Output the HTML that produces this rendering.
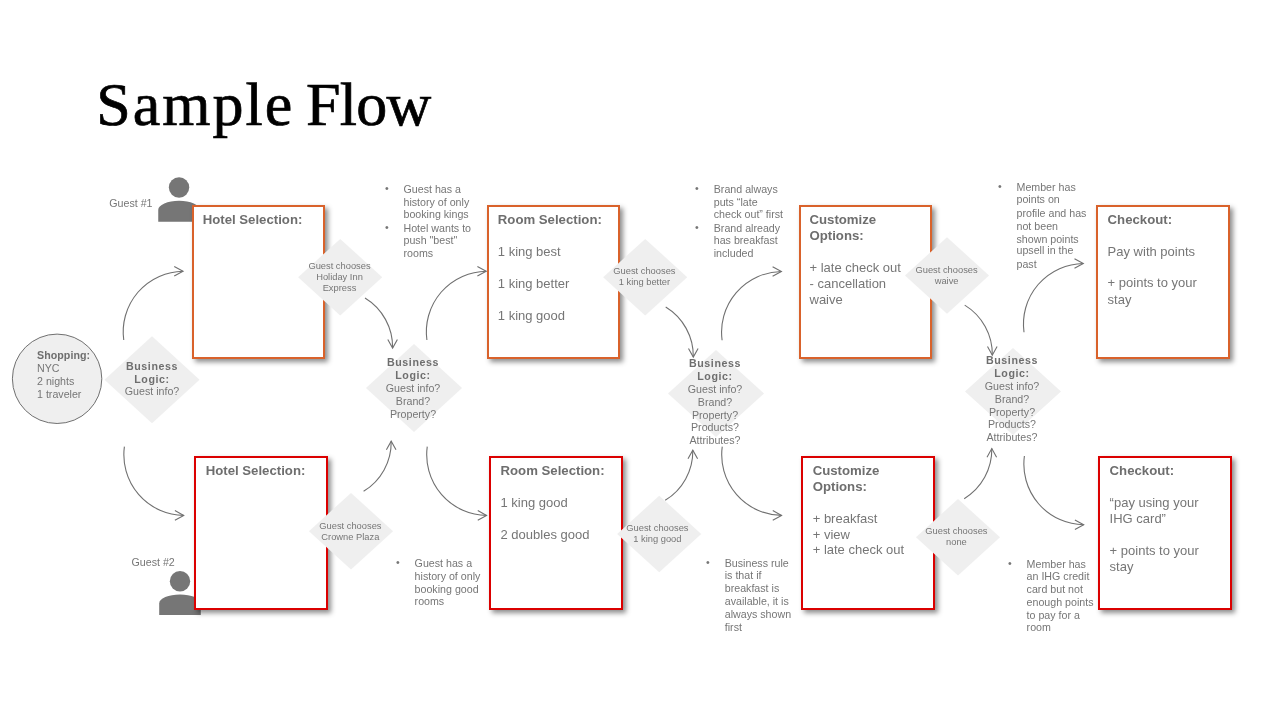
<!DOCTYPE html>
<html><head><meta charset="utf-8"><style>
html,body{margin:0;padding:0;background:#fff;}
body{width:1280px;height:720px;position:relative;overflow:hidden;font-family:"Liberation Sans",sans-serif;}
.t{position:absolute;white-space:pre;}
#tx{position:absolute;left:0;top:0;width:1280px;height:720px;will-change:transform;}
.box{position:absolute;box-sizing:border-box;border:2px solid;background:#fff;box-shadow:3px 3px 5px rgba(0,0,0,0.45);}
svg{position:absolute;left:0;top:0;}
.arc{fill:none;stroke:#707070;stroke-width:1.1;}
</style></head><body>
<svg width="1280" height="720" viewBox="0 0 1280 720">
<circle cx="57.1" cy="378.8" r="44.7" fill="#efefef" stroke="#707070" stroke-width="1"/>
<polygon points="104.5,379.7 152,336.2 199.5,379.7 152,423.2" fill="#efefef"/>
<polygon points="366,388 414,344 462,388 414,432" fill="#efefef"/>
<polygon points="668,393.6 716,350.1 764,393.6 716,437.1" fill="#efefef"/>
<polygon points="965,391.4 1013,347.9 1061,391.4 1013,434.9" fill="#efefef"/>
<circle cx="179.05" cy="187.5" r="10.2" fill="#767676"/>
<path d="M158.25,221.7 L158.25,209.80 A20.8,9.0 0 0 1 199.85,209.80 L199.85,221.7 Z" fill="#767676"/>
<circle cx="180.0" cy="581.3" r="10.2" fill="#767676"/>
<path d="M159.20,614.9 L159.20,603.40 A20.8,9.0 0 0 1 200.80,603.40 L200.80,614.9 Z" fill="#767676"/>
<path d="M123.75,340 A60.7,60.7 0 0 1 183.05,271.20" class="arc"/>
<path d="M174.25,266.40 L183.05,271.20 L174.25,276.00" class="arc"/>
<path d="M124.4,446.6 A60.7,60.7 0 0 0 183.70,515.40" class="arc"/>
<path d="M174.90,510.60 L183.70,515.40 L174.90,520.20" class="arc"/>
<path d="M365,298 A57.5,57.5 0 0 1 392.60,348.10" class="arc"/>
<path d="M387.80,339.50 L392.60,348.10 L397.40,339.50" class="arc"/>
<path d="M426.9,340 A60.7,60.7 0 0 1 486.20,271.20" class="arc"/>
<path d="M477.40,266.40 L486.20,271.20 L477.40,276.00" class="arc"/>
<path d="M363.6,491.3 A57.5,57.5 0 0 0 391.20,441.20" class="arc"/>
<path d="M386.40,449.80 L391.20,441.20 L396.00,449.80" class="arc"/>
<path d="M427.25,446.6 A60.7,60.7 0 0 0 486.55,515.40" class="arc"/>
<path d="M477.75,510.60 L486.55,515.40 L477.75,520.20" class="arc"/>
<path d="M665.7,307 A57.5,57.5 0 0 1 693.30,357.10" class="arc"/>
<path d="M688.50,348.50 L693.30,357.10 L698.10,348.50" class="arc"/>
<path d="M722.1,340.3 A60.7,60.7 0 0 1 781.40,271.50" class="arc"/>
<path d="M772.60,266.70 L781.40,271.50 L772.60,276.30" class="arc"/>
<path d="M665.2,500.3 A57.5,57.5 0 0 0 692.80,450.20" class="arc"/>
<path d="M688.00,458.80 L692.80,450.20 L697.60,458.80" class="arc"/>
<path d="M722.25,446.6 A60.7,60.7 0 0 0 781.55,515.40" class="arc"/>
<path d="M772.75,510.60 L781.55,515.40 L772.75,520.20" class="arc"/>
<path d="M964.7,305.1 A57.5,57.5 0 0 1 992.30,355.20" class="arc"/>
<path d="M987.50,346.60 L992.30,355.20 L997.10,346.60" class="arc"/>
<path d="M1024,332.25 A60.7,60.7 0 0 1 1083.30,263.45" class="arc"/>
<path d="M1074.50,258.65 L1083.30,263.45 L1074.50,268.25" class="arc"/>
<path d="M964.2,498.7 A57.5,57.5 0 0 0 991.80,448.60" class="arc"/>
<path d="M987.00,457.20 L991.80,448.60 L996.60,457.20" class="arc"/>
<path d="M1024.4,456.0 A60.7,60.7 0 0 0 1083.70,524.80" class="arc"/>
<path d="M1074.90,520.00 L1083.70,524.80 L1074.90,529.60" class="arc"/>
</svg>
<div class="box" style="left:192px;top:205px;width:133px;height:154px;border-color:#d9622b"></div>
<div class="box" style="left:487px;top:205px;width:133px;height:154px;border-color:#d9622b"></div>
<div class="box" style="left:799px;top:205px;width:133px;height:154px;border-color:#d9622b"></div>
<div class="box" style="left:1096px;top:205px;width:134px;height:154px;border-color:#d9622b"></div>
<div class="box" style="left:194px;top:456px;width:134px;height:154px;border-color:#db0000"></div>
<div class="box" style="left:489px;top:456px;width:134px;height:154px;border-color:#db0000"></div>
<div class="box" style="left:801px;top:456px;width:134px;height:154px;border-color:#db0000"></div>
<div class="box" style="left:1098px;top:456px;width:134px;height:154px;border-color:#db0000"></div>
<svg width="1280" height="720" viewBox="0 0 1280 720">
<polygon points="298.2,277.2 340.2,238.89999999999998 382.2,277.2 340.2,315.5" fill="#efefef"/>
<polygon points="603.2,277.2 645.2,238.89999999999998 687.2,277.2 645.2,315.5" fill="#efefef"/>
<polygon points="905,275.5 947,237.2 989,275.5 947,313.8" fill="#efefef"/>
<polygon points="309,531.2 351,492.90000000000003 393,531.2 351,569.5" fill="#efefef"/>
<polygon points="617.2,534 659.2,495.7 701.2,534 659.2,572.3" fill="#efefef"/>
<polygon points="916,537.3 958,498.99999999999994 1000,537.3 958,575.5999999999999" fill="#efefef"/>
</svg>
<div id="tx">
<div class="t" style="left:96.20px;top:73.42px;font:normal 62.0px/62.0px 'Liberation Serif', serif;color:#000;-webkit-text-stroke:0.7px #000;letter-spacing:2.0px;">Sample</div>
<div class="t" style="left:305.90px;top:73.42px;font:normal 62.0px/62.0px 'Liberation Serif', serif;color:#000;-webkit-text-stroke:0.7px #000;letter-spacing:-0.7px;">Flow</div>
<div class="t" style="left:109.30px;top:198.00px;font:normal 10.67px/10.67px 'Liberation Sans', sans-serif;color:#767676;">Guest #1</div>
<div class="t" style="left:131.50px;top:557.00px;font:normal 10.67px/10.67px 'Liberation Sans', sans-serif;color:#767676;">Guest #2</div>
<div class="t" style="left:37.00px;top:350.00px;font:bold 10.67px/10.67px 'Liberation Sans', sans-serif;color:#6e6e6e;letter-spacing:0.05px;">Shopping:</div>
<div class="t" style="left:37.00px;top:363.00px;font:normal 10.67px/10.67px 'Liberation Sans', sans-serif;color:#767676;">NYC</div>
<div class="t" style="left:37.00px;top:376.00px;font:normal 10.67px/10.67px 'Liberation Sans', sans-serif;color:#767676;">2 nights</div>
<div class="t" style="left:37.00px;top:389.00px;font:normal 10.67px/10.67px 'Liberation Sans', sans-serif;color:#767676;">1 traveler</div>
<div class="t" style="left:2.00px;width:300px;text-align:center;top:361.00px;font:bold 10.67px/10.67px 'Liberation Sans', sans-serif;color:#6e6e6e;letter-spacing:0.6px;">Business</div>
<div class="t" style="left:2.00px;width:300px;text-align:center;top:374.00px;font:bold 10.67px/10.67px 'Liberation Sans', sans-serif;color:#6e6e6e;letter-spacing:0.6px;">Logic:</div>
<div class="t" style="left:2.00px;width:300px;text-align:center;top:386.00px;font:normal 10.67px/10.67px 'Liberation Sans', sans-serif;color:#767676;">Guest info?</div>
<div class="t" style="left:263.00px;width:300px;text-align:center;top:357.00px;font:bold 10.67px/10.67px 'Liberation Sans', sans-serif;color:#6e6e6e;letter-spacing:0.6px;">Business</div>
<div class="t" style="left:263.00px;width:300px;text-align:center;top:370.00px;font:bold 10.67px/10.67px 'Liberation Sans', sans-serif;color:#6e6e6e;letter-spacing:0.6px;">Logic:</div>
<div class="t" style="left:263.00px;width:300px;text-align:center;top:383.00px;font:normal 10.67px/10.67px 'Liberation Sans', sans-serif;color:#767676;">Guest info?</div>
<div class="t" style="left:263.00px;width:300px;text-align:center;top:396.00px;font:normal 10.67px/10.67px 'Liberation Sans', sans-serif;color:#767676;">Brand?</div>
<div class="t" style="left:263.00px;width:300px;text-align:center;top:409.00px;font:normal 10.67px/10.67px 'Liberation Sans', sans-serif;color:#767676;">Property?</div>
<div class="t" style="left:565.00px;width:300px;text-align:center;top:358.00px;font:bold 10.67px/10.67px 'Liberation Sans', sans-serif;color:#6e6e6e;letter-spacing:0.6px;">Business</div>
<div class="t" style="left:565.00px;width:300px;text-align:center;top:371.00px;font:bold 10.67px/10.67px 'Liberation Sans', sans-serif;color:#6e6e6e;letter-spacing:0.6px;">Logic:</div>
<div class="t" style="left:565.00px;width:300px;text-align:center;top:384.00px;font:normal 10.67px/10.67px 'Liberation Sans', sans-serif;color:#767676;">Guest info?</div>
<div class="t" style="left:565.00px;width:300px;text-align:center;top:397.00px;font:normal 10.67px/10.67px 'Liberation Sans', sans-serif;color:#767676;">Brand?</div>
<div class="t" style="left:565.00px;width:300px;text-align:center;top:410.00px;font:normal 10.67px/10.67px 'Liberation Sans', sans-serif;color:#767676;">Property?</div>
<div class="t" style="left:565.00px;width:300px;text-align:center;top:422.00px;font:normal 10.67px/10.67px 'Liberation Sans', sans-serif;color:#767676;">Products?</div>
<div class="t" style="left:565.00px;width:300px;text-align:center;top:435.00px;font:normal 10.67px/10.67px 'Liberation Sans', sans-serif;color:#767676;">Attributes?</div>
<div class="t" style="left:862.00px;width:300px;text-align:center;top:355.00px;font:bold 10.67px/10.67px 'Liberation Sans', sans-serif;color:#6e6e6e;letter-spacing:0.6px;">Business</div>
<div class="t" style="left:862.00px;width:300px;text-align:center;top:368.00px;font:bold 10.67px/10.67px 'Liberation Sans', sans-serif;color:#6e6e6e;letter-spacing:0.6px;">Logic:</div>
<div class="t" style="left:862.00px;width:300px;text-align:center;top:381.00px;font:normal 10.67px/10.67px 'Liberation Sans', sans-serif;color:#767676;">Guest info?</div>
<div class="t" style="left:862.00px;width:300px;text-align:center;top:394.00px;font:normal 10.67px/10.67px 'Liberation Sans', sans-serif;color:#767676;">Brand?</div>
<div class="t" style="left:862.00px;width:300px;text-align:center;top:407.00px;font:normal 10.67px/10.67px 'Liberation Sans', sans-serif;color:#767676;">Property?</div>
<div class="t" style="left:862.00px;width:300px;text-align:center;top:419.00px;font:normal 10.67px/10.67px 'Liberation Sans', sans-serif;color:#767676;">Products?</div>
<div class="t" style="left:862.00px;width:300px;text-align:center;top:432.00px;font:normal 10.67px/10.67px 'Liberation Sans', sans-serif;color:#767676;">Attributes?</div>
<div class="t" style="left:189.50px;width:300px;text-align:center;top:262.00px;font:normal 9.33px/9.33px 'Liberation Sans', sans-serif;color:#767676;">Guest chooses</div>
<div class="t" style="left:189.50px;width:300px;text-align:center;top:273.00px;font:normal 9.33px/9.33px 'Liberation Sans', sans-serif;color:#767676;">Holiday Inn</div>
<div class="t" style="left:189.50px;width:300px;text-align:center;top:284.00px;font:normal 9.33px/9.33px 'Liberation Sans', sans-serif;color:#767676;">Express</div>
<div class="t" style="left:494.40px;width:300px;text-align:center;top:267.00px;font:normal 9.33px/9.33px 'Liberation Sans', sans-serif;color:#767676;">Guest chooses</div>
<div class="t" style="left:494.40px;width:300px;text-align:center;top:278.00px;font:normal 9.33px/9.33px 'Liberation Sans', sans-serif;color:#767676;">1 king better</div>
<div class="t" style="left:796.60px;width:300px;text-align:center;top:266.00px;font:normal 9.33px/9.33px 'Liberation Sans', sans-serif;color:#767676;">Guest chooses</div>
<div class="t" style="left:796.60px;width:300px;text-align:center;top:277.00px;font:normal 9.33px/9.33px 'Liberation Sans', sans-serif;color:#767676;">waive</div>
<div class="t" style="left:200.40px;width:300px;text-align:center;top:522.00px;font:normal 9.33px/9.33px 'Liberation Sans', sans-serif;color:#767676;">Guest chooses</div>
<div class="t" style="left:200.40px;width:300px;text-align:center;top:533.00px;font:normal 9.33px/9.33px 'Liberation Sans', sans-serif;color:#767676;">Crowne Plaza</div>
<div class="t" style="left:507.40px;width:300px;text-align:center;top:524.00px;font:normal 9.33px/9.33px 'Liberation Sans', sans-serif;color:#767676;">Guest chooses</div>
<div class="t" style="left:507.40px;width:300px;text-align:center;top:535.00px;font:normal 9.33px/9.33px 'Liberation Sans', sans-serif;color:#767676;">1 king good</div>
<div class="t" style="left:806.40px;width:300px;text-align:center;top:527.00px;font:normal 9.33px/9.33px 'Liberation Sans', sans-serif;color:#767676;">Guest chooses</div>
<div class="t" style="left:806.40px;width:300px;text-align:center;top:538.00px;font:normal 9.33px/9.33px 'Liberation Sans', sans-serif;color:#767676;">none</div>
<div class="t" style="left:384.90px;top:183.00px;font:normal 10.67px/10.67px 'Liberation Sans', sans-serif;color:#767676;">&bull;</div>
<div class="t" style="left:384.90px;top:222.00px;font:normal 10.67px/10.67px 'Liberation Sans', sans-serif;color:#767676;">&bull;</div>
<div class="t" style="left:403.50px;top:184.00px;font:normal 10.67px/10.67px 'Liberation Sans', sans-serif;color:#767676;">Guest has a</div>
<div class="t" style="left:403.50px;top:197.00px;font:normal 10.67px/10.67px 'Liberation Sans', sans-serif;color:#767676;">history of only</div>
<div class="t" style="left:403.50px;top:209.00px;font:normal 10.67px/10.67px 'Liberation Sans', sans-serif;color:#767676;">booking kings</div>
<div class="t" style="left:403.50px;top:223.00px;font:normal 10.67px/10.67px 'Liberation Sans', sans-serif;color:#767676;">Hotel wants to</div>
<div class="t" style="left:403.50px;top:235.00px;font:normal 10.67px/10.67px 'Liberation Sans', sans-serif;color:#767676;">push "best"</div>
<div class="t" style="left:403.50px;top:248.00px;font:normal 10.67px/10.67px 'Liberation Sans', sans-serif;color:#767676;">rooms</div>
<div class="t" style="left:694.90px;top:183.00px;font:normal 10.67px/10.67px 'Liberation Sans', sans-serif;color:#767676;">&bull;</div>
<div class="t" style="left:694.90px;top:222.00px;font:normal 10.67px/10.67px 'Liberation Sans', sans-serif;color:#767676;">&bull;</div>
<div class="t" style="left:713.75px;top:184.00px;font:normal 10.67px/10.67px 'Liberation Sans', sans-serif;color:#767676;">Brand always</div>
<div class="t" style="left:713.75px;top:197.00px;font:normal 10.67px/10.67px 'Liberation Sans', sans-serif;color:#767676;">puts &ldquo;late</div>
<div class="t" style="left:713.75px;top:209.00px;font:normal 10.67px/10.67px 'Liberation Sans', sans-serif;color:#767676;">check out&rdquo; first</div>
<div class="t" style="left:713.75px;top:223.00px;font:normal 10.67px/10.67px 'Liberation Sans', sans-serif;color:#767676;">Brand already</div>
<div class="t" style="left:713.75px;top:235.00px;font:normal 10.67px/10.67px 'Liberation Sans', sans-serif;color:#767676;">has breakfast</div>
<div class="t" style="left:713.75px;top:248.00px;font:normal 10.67px/10.67px 'Liberation Sans', sans-serif;color:#767676;">included</div>
<div class="t" style="left:997.90px;top:181.00px;font:normal 10.67px/10.67px 'Liberation Sans', sans-serif;color:#767676;">&bull;</div>
<div class="t" style="left:1016.50px;top:182.00px;font:normal 10.67px/10.67px 'Liberation Sans', sans-serif;color:#767676;">Member has</div>
<div class="t" style="left:1016.50px;top:194.00px;font:normal 10.67px/10.67px 'Liberation Sans', sans-serif;color:#767676;">points on</div>
<div class="t" style="left:1016.50px;top:208.00px;font:normal 10.67px/10.67px 'Liberation Sans', sans-serif;color:#767676;">profile and has</div>
<div class="t" style="left:1016.50px;top:221.00px;font:normal 10.67px/10.67px 'Liberation Sans', sans-serif;color:#767676;">not been</div>
<div class="t" style="left:1016.50px;top:234.00px;font:normal 10.67px/10.67px 'Liberation Sans', sans-serif;color:#767676;">shown points</div>
<div class="t" style="left:1016.50px;top:245.00px;font:normal 10.67px/10.67px 'Liberation Sans', sans-serif;color:#767676;">upsell in the</div>
<div class="t" style="left:1016.50px;top:259.00px;font:normal 10.67px/10.67px 'Liberation Sans', sans-serif;color:#767676;">past</div>
<div class="t" style="left:396.10px;top:557.00px;font:normal 10.67px/10.67px 'Liberation Sans', sans-serif;color:#767676;">&bull;</div>
<div class="t" style="left:414.60px;top:558.00px;font:normal 10.67px/10.67px 'Liberation Sans', sans-serif;color:#767676;">Guest has a</div>
<div class="t" style="left:414.60px;top:571.00px;font:normal 10.67px/10.67px 'Liberation Sans', sans-serif;color:#767676;">history of only</div>
<div class="t" style="left:414.60px;top:584.00px;font:normal 10.67px/10.67px 'Liberation Sans', sans-serif;color:#767676;">booking good</div>
<div class="t" style="left:414.60px;top:596.00px;font:normal 10.67px/10.67px 'Liberation Sans', sans-serif;color:#767676;">rooms</div>
<div class="t" style="left:705.90px;top:557.00px;font:normal 10.67px/10.67px 'Liberation Sans', sans-serif;color:#767676;">&bull;</div>
<div class="t" style="left:724.75px;top:558.00px;font:normal 10.67px/10.67px 'Liberation Sans', sans-serif;color:#767676;">Business rule</div>
<div class="t" style="left:724.75px;top:570.00px;font:normal 10.67px/10.67px 'Liberation Sans', sans-serif;color:#767676;">is that if</div>
<div class="t" style="left:724.75px;top:583.00px;font:normal 10.67px/10.67px 'Liberation Sans', sans-serif;color:#767676;">breakfast is</div>
<div class="t" style="left:724.75px;top:596.00px;font:normal 10.67px/10.67px 'Liberation Sans', sans-serif;color:#767676;">available, it is</div>
<div class="t" style="left:724.75px;top:609.00px;font:normal 10.67px/10.67px 'Liberation Sans', sans-serif;color:#767676;">always shown</div>
<div class="t" style="left:724.75px;top:622.00px;font:normal 10.67px/10.67px 'Liberation Sans', sans-serif;color:#767676;">first</div>
<div class="t" style="left:1008.00px;top:558.00px;font:normal 10.67px/10.67px 'Liberation Sans', sans-serif;color:#767676;">&bull;</div>
<div class="t" style="left:1026.60px;top:559.00px;font:normal 10.67px/10.67px 'Liberation Sans', sans-serif;color:#767676;">Member has</div>
<div class="t" style="left:1026.60px;top:571.00px;font:normal 10.67px/10.67px 'Liberation Sans', sans-serif;color:#767676;">an IHG credit</div>
<div class="t" style="left:1026.60px;top:584.00px;font:normal 10.67px/10.67px 'Liberation Sans', sans-serif;color:#767676;">card but not</div>
<div class="t" style="left:1026.60px;top:597.00px;font:normal 10.67px/10.67px 'Liberation Sans', sans-serif;color:#767676;">enough points</div>
<div class="t" style="left:1026.60px;top:610.00px;font:normal 10.67px/10.67px 'Liberation Sans', sans-serif;color:#767676;">to pay for a</div>
<div class="t" style="left:1026.60px;top:622.00px;font:normal 10.67px/10.67px 'Liberation Sans', sans-serif;color:#767676;">room</div>
<div class="t" style="left:202.70px;top:213.00px;font:bold 13.2px/13.2px 'Liberation Sans', sans-serif;color:#6e6e6e;">Hotel Selection:</div>
<div class="t" style="left:497.80px;top:213.00px;font:bold 13.2px/13.2px 'Liberation Sans', sans-serif;color:#6e6e6e;">Room Selection:</div>
<div class="t" style="left:497.80px;top:245.00px;font:normal 13px/13px 'Liberation Sans', sans-serif;color:#767676;">1 king best</div>
<div class="t" style="left:497.80px;top:277.00px;font:normal 13px/13px 'Liberation Sans', sans-serif;color:#767676;">1 king better</div>
<div class="t" style="left:497.80px;top:309.00px;font:normal 13px/13px 'Liberation Sans', sans-serif;color:#767676;">1 king good</div>
<div class="t" style="left:809.50px;top:213.00px;font:bold 13.2px/13.2px 'Liberation Sans', sans-serif;color:#6e6e6e;">Customize</div>
<div class="t" style="left:809.50px;top:229.00px;font:bold 13.2px/13.2px 'Liberation Sans', sans-serif;color:#6e6e6e;">Options:</div>
<div class="t" style="left:809.50px;top:261.00px;font:normal 13px/13px 'Liberation Sans', sans-serif;color:#767676;">+ late check out</div>
<div class="t" style="left:809.50px;top:277.00px;font:normal 13px/13px 'Liberation Sans', sans-serif;color:#767676;">- cancellation</div>
<div class="t" style="left:809.50px;top:293.00px;font:normal 13px/13px 'Liberation Sans', sans-serif;color:#767676;">waive</div>
<div class="t" style="left:1107.60px;top:213.00px;font:bold 13.2px/13.2px 'Liberation Sans', sans-serif;color:#6e6e6e;">Checkout:</div>
<div class="t" style="left:1107.60px;top:245.00px;font:normal 13px/13px 'Liberation Sans', sans-serif;color:#767676;">Pay with points</div>
<div class="t" style="left:1107.60px;top:276.00px;font:normal 13px/13px 'Liberation Sans', sans-serif;color:#767676;">+ points to your</div>
<div class="t" style="left:1107.60px;top:293.00px;font:normal 13px/13px 'Liberation Sans', sans-serif;color:#767676;">stay</div>
<div class="t" style="left:205.70px;top:464.00px;font:bold 13.2px/13.2px 'Liberation Sans', sans-serif;color:#6e6e6e;">Hotel Selection:</div>
<div class="t" style="left:500.50px;top:464.00px;font:bold 13.2px/13.2px 'Liberation Sans', sans-serif;color:#6e6e6e;">Room Selection:</div>
<div class="t" style="left:500.50px;top:496.00px;font:normal 13px/13px 'Liberation Sans', sans-serif;color:#767676;">1 king good</div>
<div class="t" style="left:500.50px;top:528.00px;font:normal 13px/13px 'Liberation Sans', sans-serif;color:#767676;">2 doubles good</div>
<div class="t" style="left:812.70px;top:464.00px;font:bold 13.2px/13.2px 'Liberation Sans', sans-serif;color:#6e6e6e;">Customize</div>
<div class="t" style="left:812.70px;top:480.00px;font:bold 13.2px/13.2px 'Liberation Sans', sans-serif;color:#6e6e6e;">Options:</div>
<div class="t" style="left:812.70px;top:512.00px;font:normal 13px/13px 'Liberation Sans', sans-serif;color:#767676;">+ breakfast</div>
<div class="t" style="left:812.70px;top:528.00px;font:normal 13px/13px 'Liberation Sans', sans-serif;color:#767676;">+ view</div>
<div class="t" style="left:812.70px;top:543.00px;font:normal 13px/13px 'Liberation Sans', sans-serif;color:#767676;">+ late check out</div>
<div class="t" style="left:1109.60px;top:464.00px;font:bold 13.2px/13.2px 'Liberation Sans', sans-serif;color:#6e6e6e;">Checkout:</div>
<div class="t" style="left:1109.60px;top:496.00px;font:normal 13px/13px 'Liberation Sans', sans-serif;color:#767676;">&ldquo;pay using your</div>
<div class="t" style="left:1109.60px;top:512.00px;font:normal 13px/13px 'Liberation Sans', sans-serif;color:#767676;">IHG card&rdquo;</div>
<div class="t" style="left:1109.60px;top:544.00px;font:normal 13px/13px 'Liberation Sans', sans-serif;color:#767676;">+ points to your</div>
<div class="t" style="left:1109.60px;top:560.00px;font:normal 13px/13px 'Liberation Sans', sans-serif;color:#767676;">stay</div>
</div>
</body></html>
